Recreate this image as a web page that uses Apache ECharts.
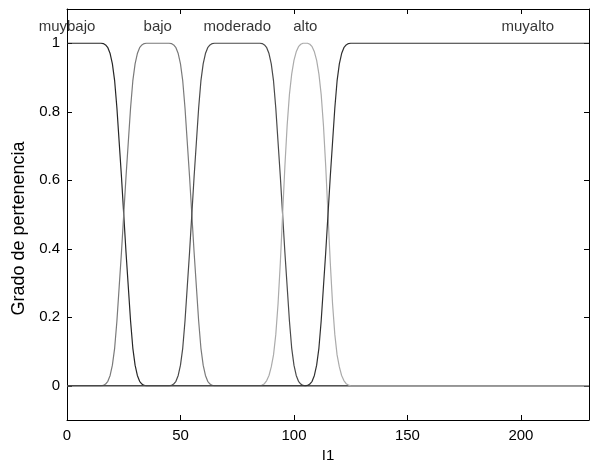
<!DOCTYPE html>
<html>
<head>
<meta charset="utf-8">
<script src="https://cdn.jsdelivr.net/npm/echarts@6/dist/echarts.min.js"></script>
<style>
html,body{margin:0;padding:0;background:#fff;}
#c{width:590px;height:460px;}
</style>
</head>
<body>
<div id="c"></div>
<script>
// ---- data ----
const mfNames = ['muybajo', 'bajo', 'moderado', 'alto', 'muyalto'];
const xTicks = [0, 50, 100, 150, 200];
const yTicks = [0, 0.2, 0.4, 0.6, 0.8, 1];
const yTickLabels = ['0', '0.2', '0.4', '0.6', '0.8', '1'];

const muybajoX = [0,15,16,17,18,19,20,21,22,23,24,25,26,27,28,29,30,31,32,33,34,35,230];
const muybajoY = [1,1,0.999,0.995,0.987,0.97,0.94,0.89,0.81,0.71,0.61,0.5,0.39,0.29,0.19,0.11,0.06,0.03,0.013,0.005,0.001,0,0];

const bajoX = [0,15,16,17,18,19,20,21,22,23,24,25,26,27,28,29,30,31,32,33,34,35,
               45,46,47,48,49,50,51,52,53,54,55,56,57,58,59,60,61,62,63,64,65,230];
const bajoY = [0,0,0.001,0.005,0.013,0.03,0.06,0.11,0.19,0.29,0.39,0.5,0.61,0.71,0.81,0.89,0.94,0.97,0.987,0.995,0.999,1,
               1,0.999,0.995,0.987,0.97,0.94,0.89,0.81,0.71,0.61,0.5,0.39,0.29,0.19,0.11,0.06,0.03,0.013,0.005,0.001,0,0];

const moderadoX = [0,45,46,47,48,49,50,51,52,53,54,55,56,57,58,59,60,61,62,63,64,65,
                   85,86,87,88,89,90,91,92,93,94,95,96,97,98,99,100,101,102,103,104,105,230];
const moderadoY = [0,0,0.001,0.005,0.013,0.03,0.06,0.11,0.19,0.29,0.39,0.5,0.61,0.71,0.81,0.89,0.94,0.97,0.987,0.995,0.999,1,
                   1,0.999,0.995,0.987,0.97,0.94,0.89,0.81,0.71,0.61,0.5,0.39,0.29,0.19,0.11,0.06,0.03,0.013,0.005,0.001,0,0];

const altoX = [0,85,86,87,88,89,90,91,92,93,94,95,96,97,98,99,100,101,102,103,104,105,
               106,107,108,109,110,111,112,113,114,115,116,117,118,119,120,121,122,123,124,125,230];
const altoY = [0,0,0.002,0.006,0.015,0.03,0.055,0.09,0.15,0.24,0.36,0.5,0.64,0.76,0.85,0.91,0.95,0.975,0.99,0.997,1,1,
               1,0.997,0.99,0.975,0.95,0.91,0.85,0.76,0.64,0.5,0.36,0.24,0.15,0.09,0.055,0.03,0.015,0.006,0.002,0,0];

const muyaltoX = [0,105,106,107,108,109,110,111,112,113,114,115,116,117,118,119,120,121,122,123,124,125,230];
const muyaltoY = [0,0,0.001,0.005,0.013,0.03,0.06,0.11,0.19,0.29,0.39,0.5,0.61,0.71,0.81,0.89,0.94,0.97,0.987,0.995,0.999,1,1];

const mfLabelX = [0, 40, 75, 105, 203];
const mfLabelY = 1.048;

// ---- build ----
const curves = [
  [muybajoX, muybajoY],
  [bajoX, bajoY],
  [moderadoX, moderadoY],
  [altoX, altoY],
  [muyaltoX, muyaltoY]
];
const colors = ['#262626', '#7a7a7a', '#4a4a4a', '#ababab', '#303030'];
const FONT = "'Liberation Sans', Arial, sans-serif";

const series = curves.map((c, i) => ({
  type: 'line',
  name: mfNames[i],
  xAxisIndex: 0,
  yAxisIndex: 0,
  data: c[0].map((x, k) => [x, c[1][k]]),
  showSymbol: false,
  symbol: 'none',
  smooth: false,
  lineStyle: { color: colors[i], width: 1.2 },
  silent: true,
  animation: false,
  z: 2 + i
}));

series.push({
  type: 'scatter',
  xAxisIndex: 0,
  yAxisIndex: 0,
  symbolSize: 0,
  silent: true,
  animation: false,
  data: mfNames.map((n, i) => ({ value: [mfLabelX[i], mfLabelY], name: n })),
  label: {
    show: true,
    position: 'inside',
    formatter: p => p.name,
    color: '#000',
    fontSize: 15,
    fontFamily: FONT
  },
  z: 10
});

const commonX = { type: 'value', min: 0, max: 230, splitLine: { show: false } };
const commonY = { type: 'value', min: -0.1, max: 1.1, splitLine: { show: false } };
const lineStyle = { lineStyle: { color: '#000', width: 1 } };

const option = {
  backgroundColor: '#fff',
  animation: false,
  grid: { left: 67, right: 1, top: 9, bottom: 40, containLabel: false, outerBoundsMode: 'none' },
  xAxis: [
    Object.assign({}, commonX, {
      position: 'bottom',
      name: 'I1',
      nameLocation: 'middle',
      nameGap: 25,
      nameTextStyle: { color: '#000', fontSize: 15, fontFamily: FONT },
      axisLine: Object.assign({ show: true, onZero: false }, lineStyle),
      axisTick: { show: true, inside: true, length: 5, customValues: xTicks, lineStyle: { color: '#000' } },
      axisLabel: { show: true, customValues: xTicks, margin: 8, color: '#000', fontSize: 15, fontFamily: FONT }
    }),
    Object.assign({}, commonX, {
      position: 'top',
      axisLine: Object.assign({ show: true, onZero: false }, lineStyle),
      axisTick: { show: true, inside: true, length: 5, customValues: xTicks, lineStyle: { color: '#000' } },
      axisLabel: { show: false }
    })
  ],
  yAxis: [
    Object.assign({}, commonY, {
      position: 'left',
      name: 'Grado de pertenencia',
      nameLocation: 'middle',
      nameGap: 36,
      nameRotate: 90,
      nameTextStyle: { color: '#000', fontSize: 18, fontFamily: FONT, padding: [0, 28, 0, 0] },
      axisLine: Object.assign({ show: true, onZero: false }, lineStyle),
      axisTick: { show: true, inside: true, length: 5, customValues: yTicks, lineStyle: { color: '#000' } },
      axisLabel: {
        show: true, customValues: yTicks, margin: 7, color: '#000', fontSize: 15, fontFamily: FONT,
        formatter: v => yTickLabels[yTicks.findIndex(t => Math.abs(t - v) < 1e-9)] || ''
      }
    }),
    Object.assign({}, commonY, {
      position: 'right',
      axisLine: Object.assign({ show: true, onZero: false }, lineStyle),
      axisTick: { show: true, inside: true, length: 5, customValues: yTicks, lineStyle: { color: '#000' } },
      axisLabel: { show: false }
    })
  ],
  series: series
};

const chart = echarts.init(document.getElementById('c'), null, { renderer: 'canvas' });
chart.setOption(option);
</script>
</body>
</html>
